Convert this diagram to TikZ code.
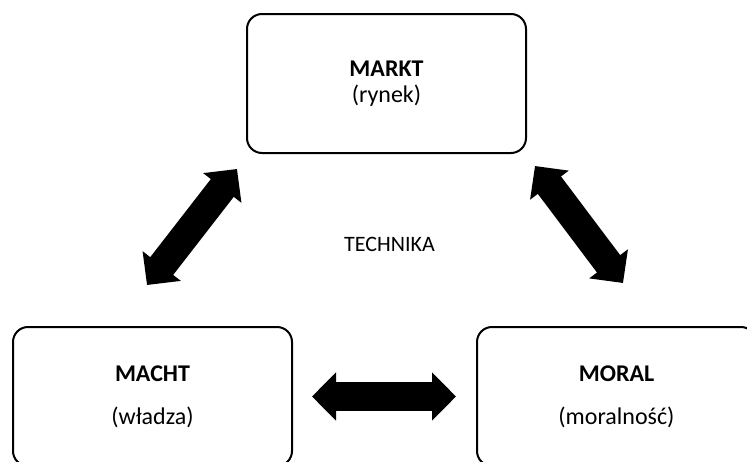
\documentclass[tikz,border=0pt]{standalone}
\usepackage{fontspec}
\setmainfont{Carlito}
\usetikzlibrary{arrows.meta}
\begin{document}
\begin{tikzpicture}[x=1pt,y=-1pt,
  box/.style={draw=black,line width=2pt,rounded corners=15pt,minimum width=279pt,minimum height=139pt,inner sep=0pt,align=center,font=\fontsize{24}{25}\selectfont},
  lbl/.style={inner sep=0pt,font=\fontsize{22}{25}\selectfont},
  dbl/.style={line width=29pt,{Triangle[width=47pt,length=24pt]}-{Triangle[width=47pt,length=24pt]}}]
\useasboundingbox (0,0) rectangle (747,461);
\node[box] (markt) at (386.5,83.5) {\textbf{MARKT}\\[1pt](rynek)};
\node[box] (macht) at (152.5,396.5) {\textbf{MACHT}\\[18pt](władza)};
\node[box] (moral) at (616.5,396.5) {\textbf{MORAL}\\[18pt](moralność)};
\node[lbl] (tech) at (389.5,244) {TECHNIKA};
\coordinate (l1) at (147,285);
\coordinate (l2) at (237,169);
\coordinate (r1) at (535,166);
\coordinate (r2) at (623,283);
\draw[dbl] (l1) -- (l2);
\draw[dbl] (r1) -- (r2);
\draw[dbl,shorten <=19pt,shorten >=20pt] (macht.east) -- (moral.west);
\end{tikzpicture}
\end{document}
